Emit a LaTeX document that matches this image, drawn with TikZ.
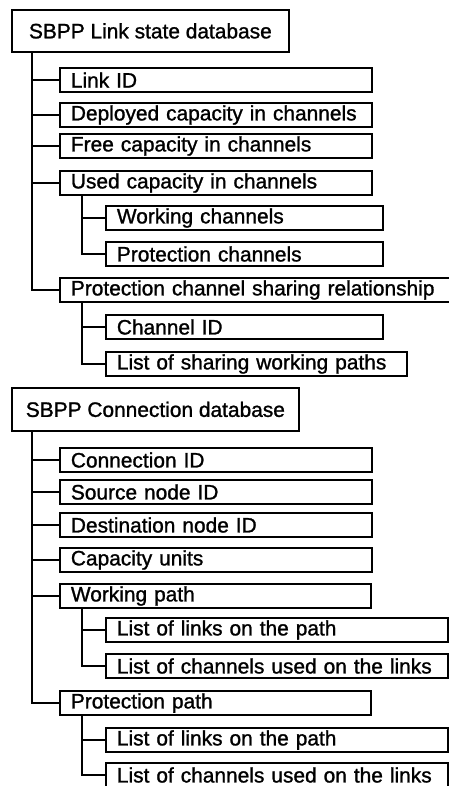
\documentclass[tikz,border=0pt]{standalone}
\usepackage{fontspec}
\setmainfont[FakeBold=1.2]{Liberation Sans}
\begin{document}
\begin{tikzpicture}[x=1pt,y=-1pt,
  head/.style={draw, line width=1.8pt, inner sep=0pt, anchor=north west,
    font=\fontsize{20.9}{24}\selectfont},
  fld/.style={draw, line width=1.8pt, inner xsep=11pt, inner ysep=0pt,
    minimum height=24pt, anchor=west, align=left,
    font=\fontsize{20.9}{24}\selectfont},
  conn/.style={line width=1.6pt}]
\useasboundingbox (0,0) rectangle (448,786);

% ---- link state database ----
\node[head, minimum width=277pt, minimum height=42pt] (h1) at (11,9) {SBPP Link state database};
\node[fld, text width=290pt] (lid)  at (59,80)  {Link ID};
\node[fld, text width=290pt] (dep)  at (59,115) {Deployed capacity in channels};
\node[fld, text width=290pt] (fre)  at (59,146) {Free capacity in channels};
\node[fld, text width=290pt] (use)  at (59,183) {Used capacity in channels};
\node[fld, text width=255pt] (wch)  at (105,218) {Working channels};
\node[fld, text width=255pt] (pch)  at (105,254) {Protection channels};
\node[fld, text width=371pt] (psr)  at (59,290) {Protection channel sharing relationship};
\node[fld, text width=255pt] (cid)  at (105,327) {Channel ID};
\node[fld, text width=279pt] (lsw)  at (105,364) {List of sharing working paths};

\coordinate (t1) at ([xshift=21pt]h1.south west);
\draw[conn] (t1) |- (psr.west);
\foreach \n in {lid,dep,fre,use} \draw[conn] (t1 |- \n.west) -- (\n.west);
\coordinate (t2) at ([xshift=23pt]use.south west);
\draw[conn] (t2) |- (pch.west);
\draw[conn] (t2 |- wch.west) -- (wch.west);
\coordinate (t3) at ([xshift=23pt]psr.south west);
\draw[conn] (t3) |- (lsw.west);
\draw[conn] (t3 |- cid.west) -- (cid.west);

% ---- connection database ----
\node[head, minimum width=287pt, minimum height=43pt] (h2) at (11,387) {SBPP Connection database};
\node[fld, text width=290pt] (cnid) at (59,460) {Connection ID};
\node[fld, text width=290pt] (src)  at (59,492) {Source node ID};
\node[fld, text width=290pt] (dst)  at (59,525) {Destination node ID};
\node[fld, text width=290pt] (cap)  at (59,560) {Capacity units};
\node[fld, text width=289pt] (wp)   at (59,596) {Working path};
\node[fld, text width=320pt] (wpl)  at (105,630) {List of links on the path};
\node[fld, text width=320pt] (wpc)  at (105,666) {List of channels used on the links};
\node[fld, text width=289pt] (pp)   at (59,703) {Protection path};
\node[fld, text width=320pt] (ppl)  at (105,740) {List of links on the path};
\node[fld, text width=320pt] (ppc)  at (105,775) {List of channels used on the links};

\coordinate (s1) at ([xshift=21pt]h2.south west);
\draw[conn] (s1) |- (pp.west);
\foreach \n in {cnid,src,dst,cap,wp} \draw[conn] (s1 |- \n.west) -- (\n.west);
\coordinate (s2) at ([xshift=23pt]wp.south west);
\draw[conn] (s2) |- (wpc.west);
\draw[conn] (s2 |- wpl.west) -- (wpl.west);
\coordinate (s3) at ([xshift=23pt]pp.south west);
\draw[conn] (s3) |- (ppc.west);
\draw[conn] (s3 |- ppl.west) -- (ppl.west);
\end{tikzpicture}
\end{document}
